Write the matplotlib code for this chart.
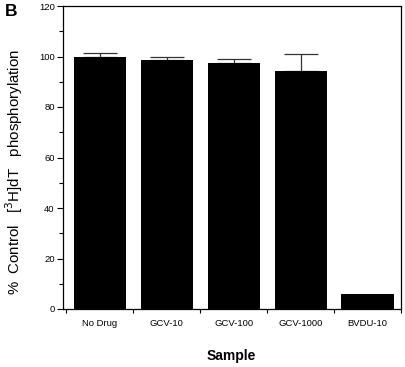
import matplotlib
matplotlib.use("Agg")
import matplotlib.pyplot as plt
from matplotlib.ticker import MultipleLocator
import numpy as np

plt.rcParams['font.family'] = ['Liberation Sans', 'DejaVu Sans']

categories = ["No Drug", "GCV-10", "GCV-100", "GCV-1000", "BVDU-10"]
values = [100.0, 98.6, 97.3, 94.4, 5.9]
errors = [1.2, 1.4, 1.7, 6.7, 0.0]
y_ticks = [0, 20, 40, 60, 80, 100, 120]

fig = plt.figure(figsize=(4.06, 3.67), dpi=100)
ax = fig.add_axes([63/406, 1 - 309/367, (401-63)/406, (309-6)/367])

x = np.arange(len(categories))
ax.bar(x, values, width=0.78, color='black', zorder=2)
for xi, v, e in zip(x, values, errors):
    if e > 0:
        ax.errorbar(xi, v, yerr=[[0], [e]], fmt='none', ecolor='#333333',
                    elinewidth=0.9, capsize=12, capthick=0.9, zorder=1)

ax.set_xlim(-0.55, len(categories) - 0.5)
ax.set_ylim(0, 120)
ax.set_yticks(y_ticks)
ax.yaxis.set_minor_locator(MultipleLocator(10))
ax.set_xticks(x)
ax.set_xticks(np.arange(-0.5, len(categories)), minor=True)
ax.set_xticklabels(categories, fontsize=6.8)
ax.tick_params(axis='x', which='major', length=0, pad=7)
ax.tick_params(axis='x', which='minor', length=3, width=0.8, direction='out')
ax.tick_params(axis='y', which='major', labelsize=6.8, length=4, width=0.8, pad=2)
ax.tick_params(axis='y', which='minor', length=3, width=0.8)
for s in ax.spines.values():
    s.set_linewidth(0.9)

fig.text(14/406, 1 - 172/367, "%  Control   [$^{3}$H]dT   phosphorylation",
         rotation=90, ha='center', va='center', fontsize=10.8)
fig.text(231/406, 1 - 356/367, "Sample", ha='center', va='center',
         fontsize=10, fontweight='bold')
fig.text(5/406, 1 - 12/367, "B", ha='left', va='center', fontsize=12.5,
         fontweight='bold')

fig.savefig("out.png", dpi=100)
